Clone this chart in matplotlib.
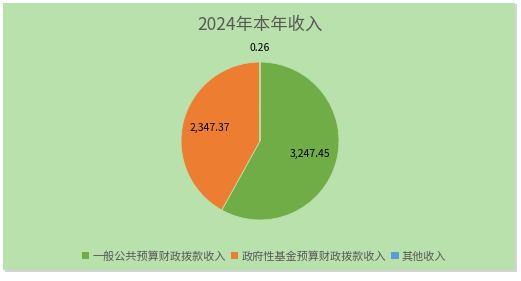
import matplotlib
matplotlib.use("Agg")
import matplotlib.pyplot as plt
from matplotlib.patches import Rectangle
import numpy as np

plt.rcParams['font.family'] = ['Noto Sans CJK SC', 'DejaVu Sans']

title = "2024年本年收入"
categories = ["一般公共预算财政拨款收入", "政府性基金预算财政拨款收入", "其他收入"]
values = [3247.45, 2347.37, 0.26]
colors = ["#70AD47", "#ED7D31", "#5B9BD5"]

W, H = 521, 281
fig = plt.figure(figsize=(W / 100, H / 100), dpi=100)
fig.patch.set_facecolor("white")

# background panel with shadow
fig.patches.append(Rectangle((5 / W, (H - 272) / H), 512 / W, 268 / H,
                             transform=fig.transFigure, facecolor="#D4D4D4",
                             edgecolor="none", zorder=-3))
fig.patches.append(Rectangle((3 / W, (H - 270) / H), 512 / W, 267 / H,
                             transform=fig.transFigure, facecolor="#B9E1AB",
                             edgecolor="none", zorder=-2))

cx, cy, r = 260, 141, 79
ax = fig.add_axes([(cx - r) / W, (H - cy - r) / H, 2 * r / W, 2 * r / H])
ax.set_zorder(2)
ax.set_facecolor("none")
wedges, _ = ax.pie(values, colors=colors, startangle=90, counterclock=False,
                   radius=1.0, wedgeprops=dict(linewidth=0.6, edgecolor="#B9E1AB"))
ax.set_xlim(-1, 1)
ax.set_ylim(-1, 1)
ax.set_aspect("equal")
ax.axis("off")

for w, v in zip(wedges, values):
    mid = np.deg2rad((w.theta1 + w.theta2) / 2)
    frac = v / sum(values)
    d = 0.65 if frac > 0.05 else 1.18
    ax.text(d * np.cos(mid), d * np.sin(mid), f"{v:,.2f}", ha="center", va="center",
            fontsize=7.5, color="black", clip_on=False)

fig.text(260 / W, 1 - 25 / H, title, ha="center", va="center", fontsize=12.5,
         color="#595959")

handles = [Rectangle((0, 0), 1, 1, facecolor=c) for c in colors]
leg = fig.legend(handles, categories, loc="center", bbox_to_anchor=(264 / W, 1 - 256 / H),
                 ncol=3, frameon=False, fontsize=8, handlelength=0.7, handleheight=0.7,
                 handletextpad=0.3, columnspacing=0.4, labelcolor="#595959")

fig.savefig("out.png", dpi=100, facecolor=fig.get_facecolor())
